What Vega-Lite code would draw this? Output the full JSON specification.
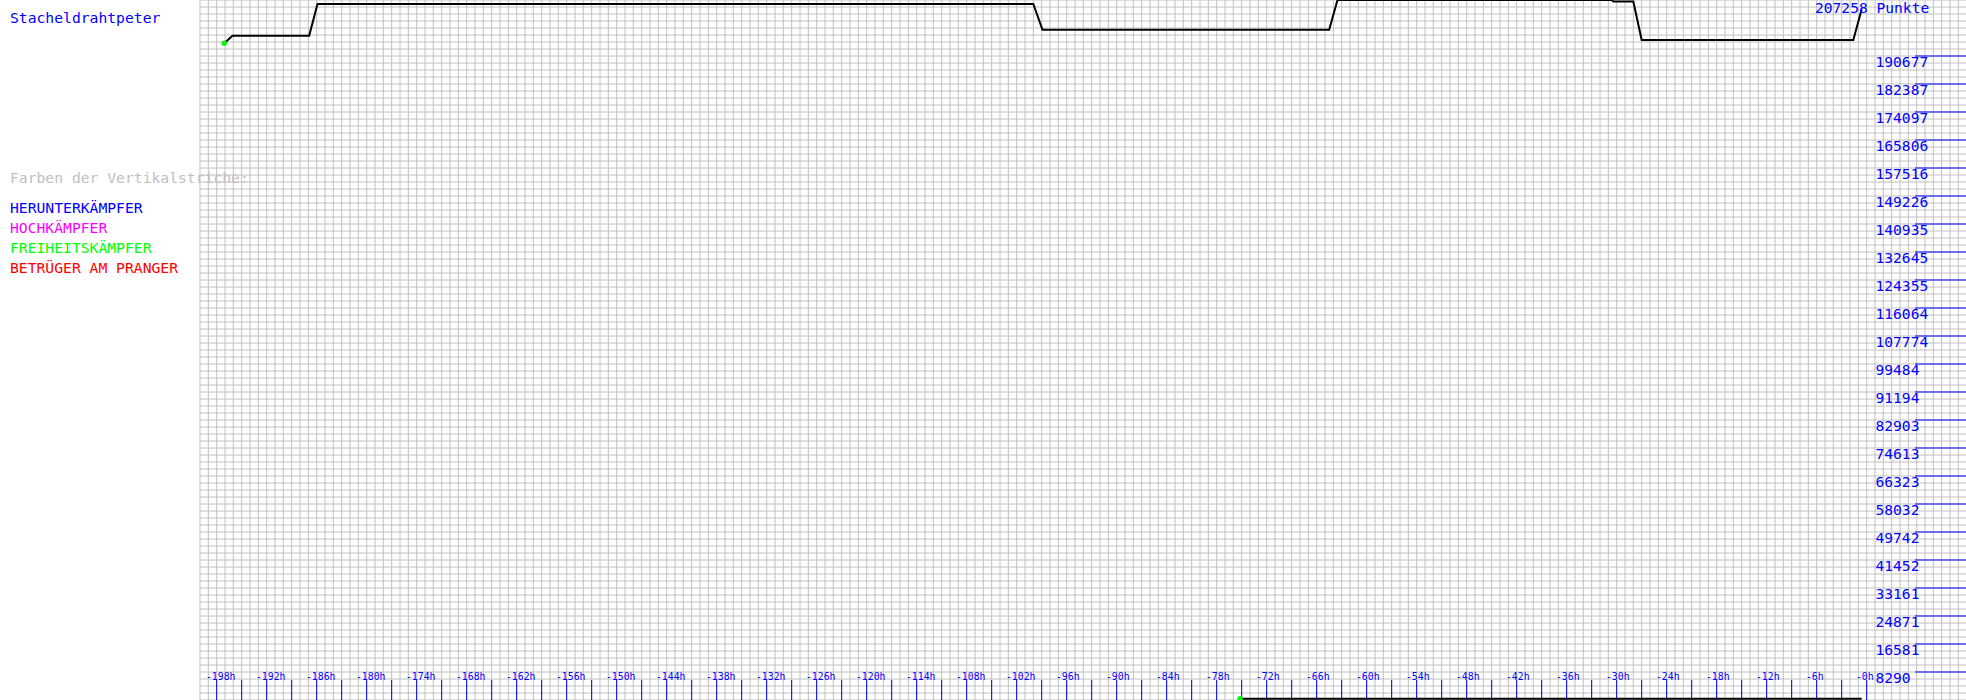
{
  "$schema": "https://vega.github.io/schema/vega-lite/v6.json",
  "width": 1966,
  "height": 700,
  "padding": 0,
  "autosize": {"type": "none"},
  "background": "white",
  "view": {"stroke": null},
  "config": {"font": "DejaVu Sans Mono"},
  "datasets": {
    "vgrid": [{"h":-200},{"h":-199},{"h":-198},{"h":-197},{"h":-196},{"h":-195},{"h":-194},{"h":-193},{"h":-192},{"h":-191},{"h":-190},{"h":-189},{"h":-188},{"h":-187},{"h":-186},{"h":-185},{"h":-184},{"h":-183},{"h":-182},{"h":-181},{"h":-180},{"h":-179},{"h":-178},{"h":-177},{"h":-176},{"h":-175},{"h":-174},{"h":-173},{"h":-172},{"h":-171},{"h":-170},{"h":-169},{"h":-168},{"h":-167},{"h":-166},{"h":-165},{"h":-164},{"h":-163},{"h":-162},{"h":-161},{"h":-160},{"h":-159},{"h":-158},{"h":-157},{"h":-156},{"h":-155},{"h":-154},{"h":-153},{"h":-152},{"h":-151},{"h":-150},{"h":-149},{"h":-148},{"h":-147},{"h":-146},{"h":-145},{"h":-144},{"h":-143},{"h":-142},{"h":-141},{"h":-140},{"h":-139},{"h":-138},{"h":-137},{"h":-136},{"h":-135},{"h":-134},{"h":-133},{"h":-132},{"h":-131},{"h":-130},{"h":-129},{"h":-128},{"h":-127},{"h":-126},{"h":-125},{"h":-124},{"h":-123},{"h":-122},{"h":-121},{"h":-120},{"h":-119},{"h":-118},{"h":-117},{"h":-116},{"h":-115},{"h":-114},{"h":-113},{"h":-112},{"h":-111},{"h":-110},{"h":-109},{"h":-108},{"h":-107},{"h":-106},{"h":-105},{"h":-104},{"h":-103},{"h":-102},{"h":-101},{"h":-100},{"h":-99},{"h":-98},{"h":-97},{"h":-96},{"h":-95},{"h":-94},{"h":-93},{"h":-92},{"h":-91},{"h":-90},{"h":-89},{"h":-88},{"h":-87},{"h":-86},{"h":-85},{"h":-84},{"h":-83},{"h":-82},{"h":-81},{"h":-80},{"h":-79},{"h":-78},{"h":-77},{"h":-76},{"h":-75},{"h":-74},{"h":-73},{"h":-72},{"h":-71},{"h":-70},{"h":-69},{"h":-68},{"h":-67},{"h":-66},{"h":-65},{"h":-64},{"h":-63},{"h":-62},{"h":-61},{"h":-60},{"h":-59},{"h":-58},{"h":-57},{"h":-56},{"h":-55},{"h":-54},{"h":-53},{"h":-52},{"h":-51},{"h":-50},{"h":-49},{"h":-48},{"h":-47},{"h":-46},{"h":-45},{"h":-44},{"h":-43},{"h":-42},{"h":-41},{"h":-40},{"h":-39},{"h":-38},{"h":-37},{"h":-36},{"h":-35},{"h":-34},{"h":-33},{"h":-32},{"h":-31},{"h":-30},{"h":-29},{"h":-28},{"h":-27},{"h":-26},{"h":-25},{"h":-24},{"h":-23},{"h":-22},{"h":-21},{"h":-20},{"h":-19},{"h":-18},{"h":-17},{"h":-16},{"h":-15},{"h":-14},{"h":-13},{"h":-12},{"h":-11},{"h":-10},{"h":-9},{"h":-8},{"h":-7},{"h":-6},{"h":-5},{"h":-4},{"h":-3},{"h":-2},{"h":-1},{"h":0},{"h":1},{"h":2},{"h":3},{"h":4},{"h":5},{"h":6},{"h":7},{"h":8},{"h":9},{"h":10},{"h":11}],
    "hgrid": [{"row":0},{"row":1},{"row":2},{"row":3},{"row":4},{"row":5},{"row":6},{"row":7},{"row":8},{"row":9},{"row":10},{"row":11},{"row":12},{"row":13},{"row":14},{"row":15},{"row":16},{"row":17},{"row":18},{"row":19},{"row":20},{"row":21},{"row":22},{"row":23},{"row":24},{"row":25},{"row":26},{"row":27},{"row":28},{"row":29},{"row":30},{"row":31},{"row":32},{"row":33},{"row":34},{"row":35},{"row":36},{"row":37},{"row":38},{"row":39},{"row":40},{"row":41},{"row":42},{"row":43},{"row":44},{"row":45},{"row":46},{"row":47},{"row":48},{"row":49},{"row":50},{"row":51},{"row":52},{"row":53},{"row":54},{"row":55},{"row":56},{"row":57},{"row":58},{"row":59},{"row":60},{"row":61},{"row":62},{"row":63},{"row":64},{"row":65},{"row":66},{"row":67},{"row":68},{"row":69},{"row":70},{"row":71},{"row":72},{"row":73},{"row":74},{"row":75},{"row":76},{"row":77},{"row":78},{"row":79},{"row":80},{"row":81},{"row":82},{"row":83},{"row":84},{"row":85},{"row":86},{"row":87},{"row":88},{"row":89},{"row":90},{"row":91},{"row":92},{"row":93},{"row":94},{"row":95},{"row":96},{"row":97},{"row":98},{"row":99},{"row":100}],
    "hourTicks": [{"h":-198},{"h":-195},{"h":-192},{"h":-189},{"h":-186},{"h":-183},{"h":-180},{"h":-177},{"h":-174},{"h":-171},{"h":-168},{"h":-165},{"h":-162},{"h":-159},{"h":-156},{"h":-153},{"h":-150},{"h":-147},{"h":-144},{"h":-141},{"h":-138},{"h":-135},{"h":-132},{"h":-129},{"h":-126},{"h":-123},{"h":-120},{"h":-117},{"h":-114},{"h":-111},{"h":-108},{"h":-105},{"h":-102},{"h":-99},{"h":-96},{"h":-93},{"h":-90},{"h":-87},{"h":-84},{"h":-81},{"h":-78},{"h":-75},{"h":-72},{"h":-69},{"h":-66},{"h":-63},{"h":-60},{"h":-57},{"h":-54},{"h":-51},{"h":-48},{"h":-45},{"h":-42},{"h":-39},{"h":-36},{"h":-33},{"h":-30},{"h":-27},{"h":-24},{"h":-21},{"h":-18},{"h":-15},{"h":-12},{"h":-9},{"h":-6},{"h":-3},{"h":0}],
    "hourLabels": [{"h":-198,"label":"-198h"},{"h":-192,"label":"-192h"},{"h":-186,"label":"-186h"},{"h":-180,"label":"-180h"},{"h":-174,"label":"-174h"},{"h":-168,"label":"-168h"},{"h":-162,"label":"-162h"},{"h":-156,"label":"-156h"},{"h":-150,"label":"-150h"},{"h":-144,"label":"-144h"},{"h":-138,"label":"-138h"},{"h":-132,"label":"-132h"},{"h":-126,"label":"-126h"},{"h":-120,"label":"-120h"},{"h":-114,"label":"-114h"},{"h":-108,"label":"-108h"},{"h":-102,"label":"-102h"},{"h":-96,"label":"-96h"},{"h":-90,"label":"-90h"},{"h":-84,"label":"-84h"},{"h":-78,"label":"-78h"},{"h":-72,"label":"-72h"},{"h":-66,"label":"-66h"},{"h":-60,"label":"-60h"},{"h":-54,"label":"-54h"},{"h":-48,"label":"-48h"},{"h":-42,"label":"-42h"},{"h":-36,"label":"-36h"},{"h":-30,"label":"-30h"},{"h":-24,"label":"-24h"},{"h":-18,"label":"-18h"},{"h":-12,"label":"-12h"},{"h":-6,"label":"-6h"},{"h":0,"label":"-0h"}],
    "scaleMarks": [{"pts":8290},{"pts":16581},{"pts":24871},{"pts":33161},{"pts":41452},{"pts":49742},{"pts":58032},{"pts":66323},{"pts":74613},{"pts":82903},{"pts":91194},{"pts":99484},{"pts":107774},{"pts":116064},{"pts":124355},{"pts":132645},{"pts":140935},{"pts":149226},{"pts":157516},{"pts":165806},{"pts":174097},{"pts":182387},{"pts":190677}],
    "score": [
      {"series":"a","h":-197.1,"pts":194434},
      {"series":"a","h":-196.1,"pts":196684},
      {"series":"a","h":-186.9,"pts":196684},
      {"series":"a","h":-185.9,"pts":206072},
      {"series":"a","h":-100.0,"pts":206072},
      {"series":"a","h":-98.9,"pts":198461},
      {"series":"a","h":-64.5,"pts":198461},
      {"series":"a","h":-63.5,"pts":207258},
      {"series":"a","h":-30.6,"pts":207258},
      {"series":"a","h":-30.4,"pts":206814},
      {"series":"a","h":-28.0,"pts":206814},
      {"series":"a","h":-27.0,"pts":195428},
      {"series":"a","h":-1.6,"pts":195428},
      {"series":"a","h":-0.6,"pts":204504},
      {"series":"b","h":-75.2,"pts":400},
      {"series":"b","h":-0.6,"pts":400}
    ],
    "total": [{"label":"207258 Punkte","pts":207258}],
    "legend": [
      {"t":"Stacheldrahtpeter","i":-9.5},
      {"t":"Farben der Vertikalstriche:","i":-1.5},
      {"t":"HERUNTERKÄMPFER","i":0},
      {"t":"HOCHKÄMPFER","i":1},
      {"t":"FREIHEITSKÄMPFER","i":2},
      {"t":"BETRÜGER AM PRANGER","i":3}
    ]
  },
  "resolve": {"scale": {"y": "independent"}},
  "layer": [
    {
      "data": {"name": "vgrid"},
      "mark": {"type": "rule", "color": "#c0c0c0", "strokeWidth": 1},
      "encoding": {
        "x": {"field": "h", "type": "quantitative", "scale": {"domain": [-224, 11.92], "nice": false, "zero": false}, "axis": null}
      }
    },
    {
      "data": {"name": "hgrid"},
      "mark": {"type": "rule", "color": "#c0c0c0", "strokeWidth": 1},
      "encoding": {
        "y": {"field": "row", "type": "quantitative", "scale": {"domain": [0, 100], "nice": false, "zero": false}, "axis": null},
        "x": {"datum": -200, "type": "quantitative", "axis": null},
        "x2": {"datum": 11.92}
      }
    },
    {
      "data": {"name": "hourTicks"},
      "mark": {"type": "rule", "color": "#0000ff", "strokeWidth": 1},
      "encoding": {
        "x": {"field": "h", "type": "quantitative", "axis": null},
        "y": {"datum": 0, "type": "quantitative", "scale": {"domain": [0, 100], "nice": false, "zero": false}, "axis": null},
        "y2": {"datum": 2.857}
      }
    },
    {
      "data": {"name": "hourLabels"},
      "mark": {"type": "text", "color": "#0000ff", "font": "DejaVu Sans Mono", "fontSize": 9.8, "align": "left", "baseline": "alphabetic", "dx": -10.7},
      "encoding": {
        "x": {"field": "h", "type": "quantitative", "axis": null},
        "y": {"datum": 2.857, "type": "quantitative", "scale": {"domain": [0, 100], "nice": false, "zero": false}, "axis": null},
        "text": {"field": "label", "type": "nominal"}
      }
    },
    {
      "data": {"name": "scaleMarks"},
      "mark": {"type": "rule", "color": "#0000ff", "strokeWidth": 1},
      "encoding": {
        "y": {"field": "pts", "type": "quantitative", "scale": {"domain": [0, 207258], "nice": false, "zero": false}, "axis": null},
        "x": {"datum": 5.8, "type": "quantitative", "axis": null},
        "x2": {"datum": 11.92}
      }
    },
    {
      "data": {"name": "scaleMarks"},
      "mark": {"type": "text", "color": "#0000ff", "font": "DejaVu Sans Mono", "fontSize": 14.6, "align": "left", "baseline": "alphabetic", "dy": 11},
      "encoding": {
        "y": {"field": "pts", "type": "quantitative", "scale": {"domain": [0, 207258], "nice": false, "zero": false}, "axis": null},
        "x": {"datum": 1.06, "type": "quantitative", "axis": null},
        "text": {"field": "pts", "type": "quantitative", "format": "d"}
      }
    },
    {
      "data": {"name": "score"},
      "mark": {"type": "line", "color": "#000000", "strokeWidth": 2},
      "encoding": {
        "x": {"field": "h", "type": "quantitative", "axis": null},
        "y": {"field": "pts", "type": "quantitative", "scale": {"domain": [0, 207258], "nice": false, "zero": false}, "axis": null},
        "detail": {"field": "series", "type": "nominal"}
      }
    },
    {
      "data": {"name": "score"},
      "transform": [
        {"joinaggregate": [{"op": "min", "field": "h", "as": "firstH"}], "groupby": ["series"]},
        {"filter": "datum.h == datum.firstH"}
      ],
      "mark": {"type": "point", "filled": true, "color": "#00ff00", "size": 30, "opacity": 1},
      "encoding": {
        "x": {"field": "h", "type": "quantitative", "axis": null},
        "y": {"field": "pts", "type": "quantitative", "scale": {"domain": [0, 207258], "nice": false, "zero": false}, "axis": null}
      }
    },
    {
      "data": {"name": "total"},
      "mark": {"type": "text", "color": "#0000ff", "font": "DejaVu Sans Mono", "fontSize": 14.6, "align": "left", "baseline": "alphabetic", "dy": 13},
      "encoding": {
        "x": {"datum": -6.2, "type": "quantitative", "axis": null},
        "y": {"field": "pts", "type": "quantitative", "scale": {"domain": [0, 207258], "nice": false, "zero": false}, "axis": null},
        "text": {"field": "label", "type": "nominal"}
      }
    },
    {
      "data": {"name": "legend"},
      "mark": {"type": "text", "font": "DejaVu Sans Mono", "fontSize": 14.7, "align": "left", "baseline": "alphabetic"},
      "encoding": {
        "x": {"datum": -222.8, "type": "quantitative", "axis": null},
        "y": {"field": "i", "type": "quantitative", "scale": {"domain": [-10.665, 24.335], "reverse": true, "nice": false, "zero": false}, "axis": null},
        "text": {"field": "t", "type": "nominal"},
        "color": {
          "field": "t", "type": "nominal", "legend": null,
          "scale": {
            "domain": ["Stacheldrahtpeter", "Farben der Vertikalstriche:", "HERUNTERKÄMPFER", "HOCHKÄMPFER", "FREIHEITSKÄMPFER", "BETRÜGER AM PRANGER"],
            "range": ["#0000ff", "#c0c0c0", "#0000ff", "#ff00ff", "#00ff00", "#ff0000"]
          }
        }
      }
    }
  ]
}
